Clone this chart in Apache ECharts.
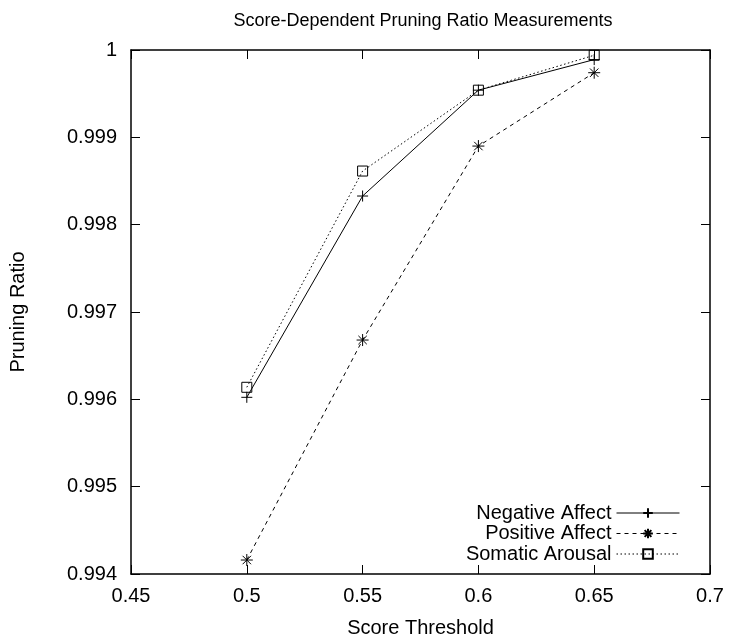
<!DOCTYPE html>
<html>
<head>
<meta charset="utf-8">
<script src="https://cdn.jsdelivr.net/npm/echarts@6/dist/echarts.min.js"></script>
<style>html,body{margin:0;padding:0;background:#fff}#c{width:729px;height:643px}</style>
</head>
<body>
<div id="c"></div>
<script>
const thresholds = [0.5, 0.55, 0.6, 0.65];
const negativeAffect = [0.996023, 0.998328, 0.99954, 0.99989];
const positiveAffect = [0.99416, 0.996679, 0.9989, 0.99974];
const somaticArousal = [0.996138, 0.998614, 0.99954, 0.99994];
const seriesNames = ['Negative Affect', 'Positive Affect', 'Somatic Arousal'];
const titleText = 'Score-Dependent Pruning Ratio Measurements';
const xName = 'Score Threshold';
const yName = 'Pruning Ratio';

const FONT = 'Liberation Sans';
const FS = 20;
const chart = echarts.init(document.getElementById('c'), null, {renderer: 'canvas'});

function pairs(ys) { return thresholds.map((x, i) => [x, ys[i]]); }

const PLUS = 'path://M0,5L10,5M5,0L5,10';
const STAR = 'path://M0,5L10,5M5,0L5,10M1.5,1.5L8.5,8.5M1.5,8.5L8.5,1.5';
const BOX = 'path://M0,0L10,0L10,10L0,10Z';

function mkSeries(name, ys, sym, size, dash) {
  return {
    name, type: 'line', data: pairs(ys), symbol: sym, symbolSize: size,
    showAllSymbol: true,
    lineStyle: {color: '#000', width: 1, type: dash},
    itemStyle: {color: 'rgba(0,0,0,0)', borderColor: '#000', borderWidth: 1},
    emphasis: {disabled: true}, silent: true
  };
}

const axisCommon = {
  axisLine: {show: true, lineStyle: {color: '#000', width: 1.5}},
  axisTick: {show: true, inside: true, length: 9, lineStyle: {color: '#000', width: 1}},
  splitLine: {show: false}
};

chart.setOption({
  animation: false,
  backgroundColor: '#fff',
  title: {
    text: titleText, left: 418, top: 7, textAlign: 'center',
    textStyle: {fontFamily: FONT, fontSize: 18, fontWeight: 'normal', color: '#000'}
  },
  grid: {left: 131, right: 19, top: 50, bottom: 69},
  legend: {
    orient: 'vertical', right: 44, top: 498, align: 'right',
    itemWidth: 63, itemHeight: 12, itemGap: 0.5,
    lineStyle: {width: 1},
    textStyle: {fontFamily: FONT, fontSize: FS, color: '#000'},
    data: seriesNames, selectedMode: false
  },
  xAxis: [
    Object.assign({
      type: 'value', min: 0.45, max: 0.7, interval: 0.05, position: 'bottom',
      name: xName, nameLocation: 'middle', nameGap: 44,
      nameTextStyle: {fontFamily: FONT, fontSize: FS, color: '#000'},
      axisLabel: {fontFamily: FONT, fontSize: FS, color: '#000', margin: 12,
        formatter: v => String(parseFloat(v.toFixed(2)))}
    }, axisCommon),
    Object.assign({
      type: 'value', min: 0.45, max: 0.7, interval: 0.05, position: 'top',
      axisLabel: {show: false}
    }, axisCommon)
  ],
  yAxis: [
    Object.assign({
      type: 'value', min: 0.994, max: 1, interval: 0.001, position: 'left',
      name: yName, nameLocation: 'middle', nameGap: 103, nameRotate: 90,
      nameTextStyle: {fontFamily: FONT, fontSize: FS, color: '#000'},
      axisLabel: {fontFamily: FONT, fontSize: FS, color: '#000', margin: 14,
        formatter: v => String(parseFloat(v.toFixed(3)))}
    }, axisCommon),
    Object.assign({
      type: 'value', min: 0.994, max: 1, interval: 0.001, position: 'right',
      axisLabel: {show: false}
    }, axisCommon)
  ],
  series: [
    mkSeries(seriesNames[0], negativeAffect, PLUS, 11, 'solid'),
    mkSeries(seriesNames[1], positiveAffect, STAR, 12, [4, 4]),
    mkSeries(seriesNames[2], somaticArousal, BOX, 10, [1.5, 2.5])
  ]
});
</script>
</body>
</html>
